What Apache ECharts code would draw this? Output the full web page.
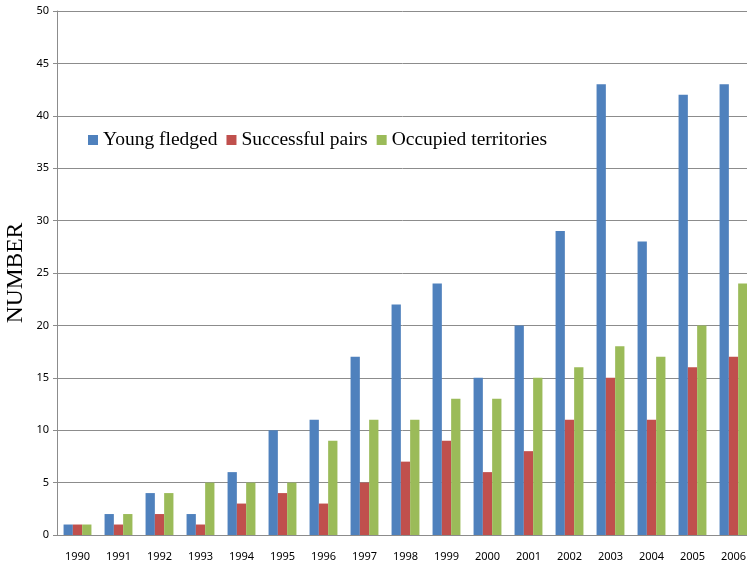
<!DOCTYPE html>
<html>
<head>
<meta charset="utf-8">
<script src="https://cdn.jsdelivr.net/npm/echarts@6/dist/echarts.min.js"></script>
<style>
  html, body { margin: 0; padding: 0; background: #fff; }
  #chart { width: 747px; height: 562px; }
</style>
</head>
<body>
<div id="chart"></div>
<script>
// Annual breeding figures
const years = ['1990','1991','1992','1993','1994','1995','1996','1997','1998','1999','2000','2001','2002','2003','2004','2005','2006'];
const youngFledged = [1, 2, 4, 2, 6, 10, 11, 17, 22, 24, 15, 20, 29, 43, 28, 42, 43];
const successfulPairs = [1, 1, 2, 1, 3, 4, 3, 5, 7, 9, 6, 8, 11, 15, 11, 16, 17];
const occupiedTerritories = [1, 2, 4, 5, 5, 5, 9, 11, 11, 13, 13, 15, 16, 18, 17, 20, 24];

const axisGray = '#8c8c8c';
const labelFont = 'Noto Sans';

const chart = echarts.init(document.getElementById('chart'), null, { renderer: 'canvas' });

chart.setOption({
  animation: false,
  backgroundColor: '#ffffff',
  grid: { left: 57, top: 11, width: 697, height: 524, containLabel: false, outerBoundsMode: 'none' },
  legend: {
    left: 82,
    top: 118,
    width: 480,
    padding: [12, 6, 12, 6],
    backgroundColor: '#ffffff',
    itemWidth: 10,
    itemHeight: 10,
    itemGap: 9,
    icon: 'rect',
    textStyle: { fontFamily: 'Liberation Serif', fontSize: 19.5, color: '#000' },
    data: ['Young fledged', 'Successful pairs', 'Occupied territories']
  },
  xAxis: {
    type: 'category',
    data: years,
    axisLine: { lineStyle: { color: axisGray, width: 1 } },
    axisTick: { alignWithLabel: false, length: 5, lineStyle: { color: axisGray } },
    axisLabel: { fontFamily: labelFont, fontSize: 11, color: '#000', margin: 16 }
  },
  yAxis: {
    type: 'value',
    min: 0,
    max: 50,
    interval: 5,
    name: 'NUMBER',
    nameLocation: 'middle',
    nameGap: 29,
    nameMoveOverlap: false,
    nameRotate: 90,
    nameTextStyle: { fontFamily: 'Liberation Serif', fontSize: 23.5, color: '#000' },
    axisLine: { show: true, lineStyle: { color: axisGray, width: 1 } },
    axisTick: { show: true, length: 4, lineStyle: { color: axisGray } },
    axisLabel: { fontFamily: labelFont, fontSize: 11, color: '#000', margin: 8 },
    splitLine: { show: true, lineStyle: { color: axisGray, width: 1 } }
  },
  series: [
    {
      name: 'Young fledged', type: 'bar', data: youngFledged,
      itemStyle: { color: '#4F81BD' }, barGap: '0%', barCategoryGap: '32%'
    },
    {
      name: 'Successful pairs', type: 'bar', data: successfulPairs,
      itemStyle: { color: '#C0504D' }, barGap: '0%', barCategoryGap: '32%'
    },
    {
      name: 'Occupied territories', type: 'bar', data: occupiedTerritories,
      itemStyle: { color: '#9BBB59' }, barGap: '0%', barCategoryGap: '32%'
    }
  ]
});
</script>
</body>
</html>
